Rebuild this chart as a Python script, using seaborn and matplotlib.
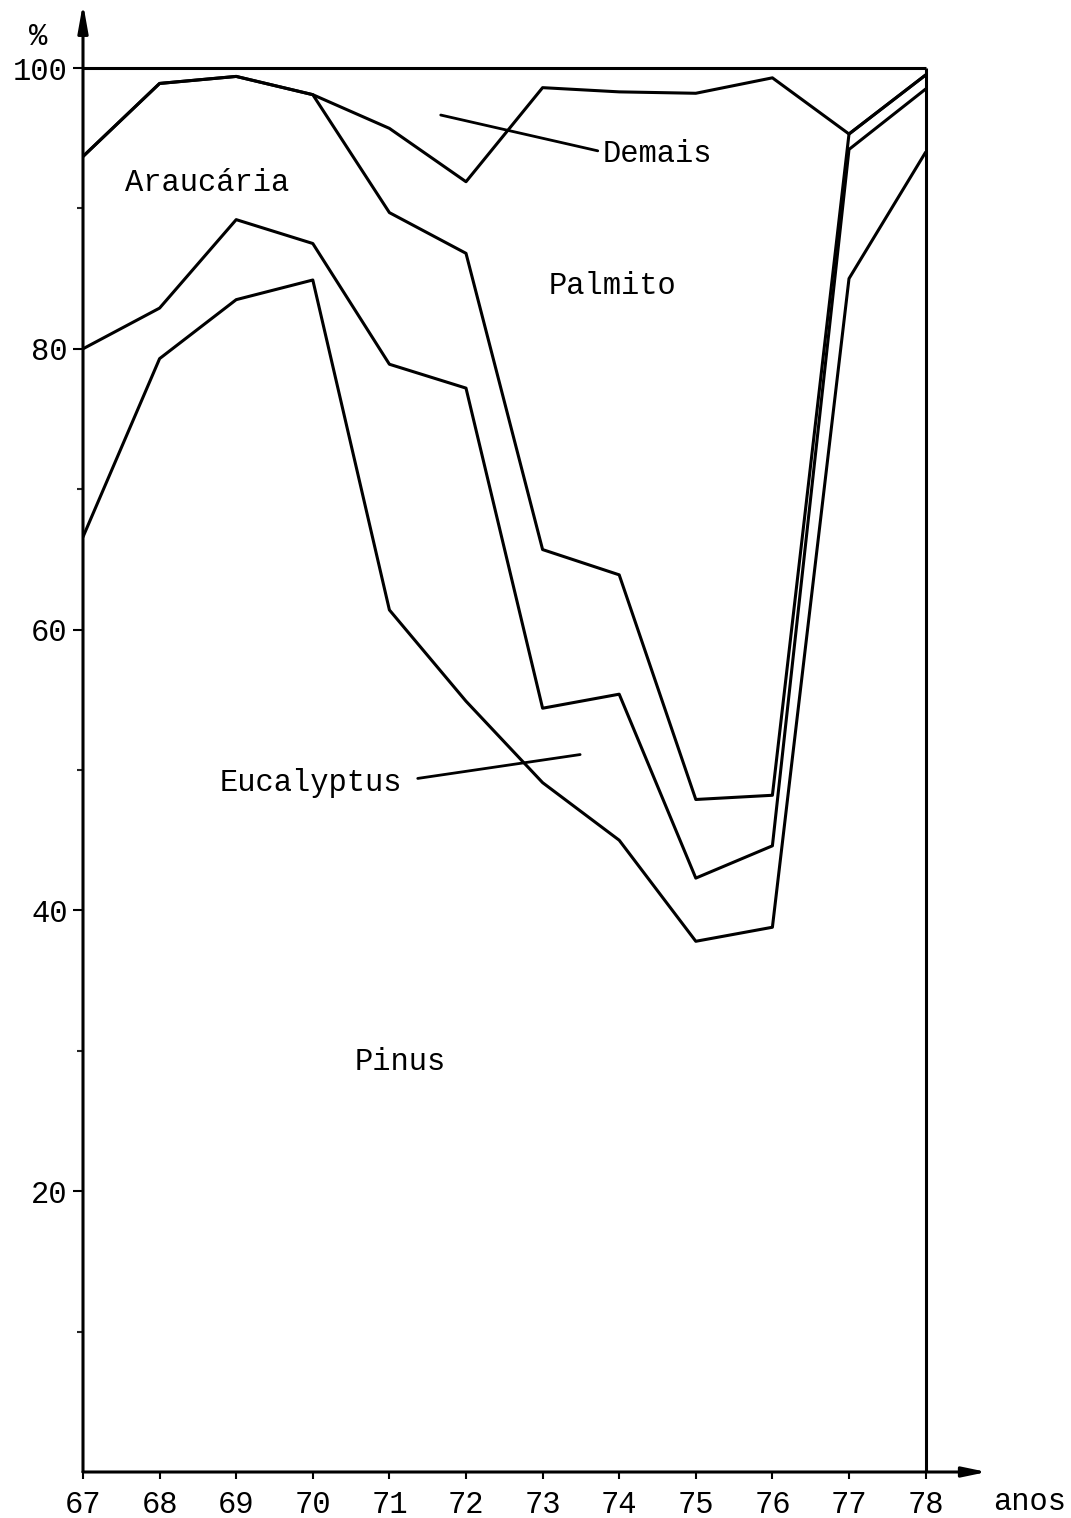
import numpy as np
import pandas as pd
import matplotlib
matplotlib.use("Agg")
import matplotlib.pyplot as plt
import seaborn as sns

# ---- data (cumulative percentage boundaries) ----
anos = [67, 68, 69, 70, 71, 72, 73, 74, 75, 76, 77, 78]
# top of Palmito (bottom of "Demais")
limite_demais = [93.7, 98.9, 99.4, 98.1, 95.7, 91.9, 98.6, 98.3, 98.2, 99.3, 95.3, 99.5]
# top of Araucária (bottom of Palmito)
limite_palmito = [93.7, 98.9, 99.4, 98.1, 89.7, 86.8, 65.7, 63.9, 47.9, 48.2, 95.3, 99.5]
# top of Eucalyptus (bottom of Araucária)
limite_araucaria = [80.0, 82.9, 89.2, 87.5, 78.9, 77.2, 54.4, 55.4, 42.3, 44.6, 94.2, 98.5]
# top of Pinus (bottom of Eucalyptus)
limite_eucalyptus = [66.6, 79.3, 83.5, 84.9, 61.4, 54.9, 49.1, 45.0, 37.8, 38.8, 85.0, 94.0]

y_ticks = [20, 40, 60, 80, 100]
y_minor = [10, 30, 50, 70, 90]
x_labels = [str(a) for a in anos]

df = pd.DataFrame({
    "ano": anos * 4,
    "valor": limite_demais + limite_palmito + limite_araucaria + limite_eucalyptus,
    "linha": (["demais"] * 12 + ["palmito"] * 12 + ["araucaria"] * 12 + ["eucalyptus"] * 12),
})

sns.set_theme(style="white")
FONT = ["Liberation Mono", "DejaVu Sans Mono"]
plt.rcParams["font.family"] = FONT

W, H = 1071, 1518
fig = plt.figure(figsize=(W / 100, H / 100), dpi=100)
# axes placed so that 67 -> x=83px, 78.8 -> 987px ; y 0 -> 1472px, 104.5 -> 5px
x0, x1 = 67.0, 78.8
y0, y1 = 0.0, 104.5
left_px, right_px = 83, 83 + (x1 - x0) * 76.6
bot_px, top_px = 1472, 1472 - (y1 - y0) * 14.04
ax = fig.add_axes([left_px / W, (H - bot_px) / H, (right_px - left_px) / W, (bot_px - top_px) / H])
ax.set_xlim(x0, x1)
ax.set_ylim(y0, y1)

sns.lineplot(data=df, x="ano", y="valor", units="linha", estimator=None,
             color="black", linewidth=2.2, ax=ax, legend=False)

for s in ax.spines.values():
    s.set_visible(False)

lk = dict(color="black", linewidth=2.2, clip_on=False, solid_capstyle="butt")
# frame: top line at 100 and right line at 78
ax.plot([67, 78], [100, 100], **lk)
ax.plot([78, 78], [0, 100], **lk)
# axes with arrows
ax.annotate("", xy=(67, 104.6), xytext=(67, 0),
            arrowprops=dict(arrowstyle="-|>,head_length=1.4,head_width=0.25",
                            color="black", lw=2.2, shrinkA=0, shrinkB=0),
            annotation_clip=False)
ax.annotate("", xy=(78.8, 0), xytext=(67, 0),
            arrowprops=dict(arrowstyle="-|>,head_length=1.2,head_width=0.25",
                            color="black", lw=2.2, shrinkA=0, shrinkB=0,
                            facecolor="white"),
            annotation_clip=False)

# ticks
ax.set_yticks(y_ticks)
ax.set_yticklabels([str(v) for v in y_ticks])
ax.set_yticks(y_minor, minor=True)
ax.set_xticks(anos)
ax.set_xticklabels(x_labels)
ax.tick_params(axis="y", which="major", direction="out", length=7, width=1.5,
               pad=4, labelsize=22, left=True, colors="black")
ax.tick_params(axis="y", which="minor", direction="out", length=4, width=1.5, left=True)
ax.tick_params(axis="x", which="major", direction="out", length=5, width=1.5,
               pad=8, labelsize=22, bottom=True, colors="black")
ax.set_xlabel("")
ax.set_ylabel("")
ax.grid(False)
ax.set_facecolor("white")

tk = dict(fontsize=22, color="black", family=FONT)
ax.text(66.41, 102.2, "%", ha="center", va="center", **tk)
ax.text(78.88, -2.15, "anos", ha="left", va="center", **tk)
ax.text(67.55, 91.8, "Araucária", ha="left", va="center", **tk)
ax.text(73.08, 84.5, "Palmito", ha="left", va="center", **tk)
ax.text(73.78, 93.9, "Demais", ha="left", va="center", **tk)
ax.text(68.79, 49.1, "Eucalyptus", ha="left", va="center", **tk)
ax.text(70.55, 29.2, "Pinus", ha="left", va="center", **tk)

# pointer lines
ax.plot([71.67, 73.72], [96.65, 94.1], color="black", linewidth=2)
ax.plot([71.37, 73.49], [49.4, 51.1], color="black", linewidth=2)

fig.savefig("out.png", dpi=100, facecolor="white")
